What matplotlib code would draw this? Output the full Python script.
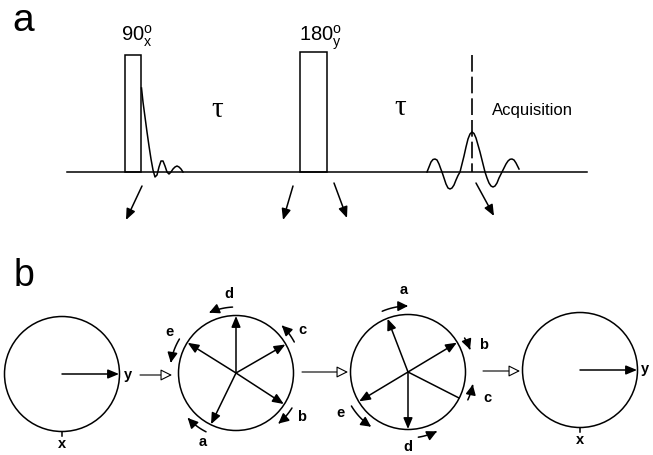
import numpy as np
import matplotlib
matplotlib.use("agg")
import matplotlib.pyplot as plt
from matplotlib.patches import Circle, FancyArrowPatch, Rectangle
from matplotlib.path import Path

plt.rcParams['font.family'] = ['Liberation Sans', 'DejaVu Sans']
plt.rcParams['mathtext.fontset'] = 'custom'
plt.rcParams['mathtext.rm'] = 'Liberation Sans'
plt.rcParams['mathtext.it'] = 'Liberation Sans'

# ---- panel a: pulse sequence (pixel coordinates)
baseline_y = 172
baseline_x = [67, 587]
pulse_left = [125, 300]
pulse_right = [141, 327]
pulse_top = [55, 52]
pulse_labels = [r'$\mathrm{90^o_x}$', r'$\mathrm{180^o_y}$']
pulse_label_x = [121, 299]

fid_x = [141.5, 143, 145, 147, 149, 151, 153, 155, 157, 159, 161, 163, 165,
         167, 169, 171, 173, 175, 177, 179, 181, 183]
fid_h = [84, 70, 55, 40, 26, 13, 2, -5, -3, 5, 11, 11, 6, 0, -2, 0, 3, 5, 6,
         5, 3, 0]

echo_x = [427, 429, 431, 433, 435, 437, 439, 441, 442, 444, 446, 448, 450,
          452, 454, 456, 458, 460, 462, 464, 466, 468, 470, 472, 474, 476,
          478, 480, 482, 484, 485, 487, 489, 491, 493, 495, 497, 499, 501,
          502, 504, 506, 508, 510, 512, 514, 516, 518, 519]
echo_h = [0, 5, 10, 12.5, 13, 12, 8, 2.5, 0, -6, -12, -16, -17, -16, -13, -8,
          -3.5, 0, 8, 16, 25, 33, 38, 40, 38.5, 34, 27, 20, 12, 4, 0, -6, -11,
          -14, -15, -14, -11, -6, -2, 0, 4, 8, 11, 12.7, 13, 12, 9, 5, 3]
echo_center = 472

tau_x = [217, 400]
tau_y = [110, 108]

spin_tail = [(142, 186), (293, 186), (334, 183), (476, 183)]
spin_head = [(126, 220), (283, 220), (347, 218), (494, 216)]

# ---- panel b: vector diagrams
circ_cx = [62, 236, 408, 580]
circ_cy = [374, 373, 372, 370]
circ_r = 57.5

vec_labels = ['a', 'b', 'c', 'd', 'e']
vec_ang_2 = [-116, -33, 30, 90, 148]
vec_ang_3 = [111, 31, -27, -90, -149]
vec_head_3 = [True, True, False, True, True]

arc_start_2 = [-117, -32, 28, 93, 149]
arc_end_2 = [-137, -50, 46, 114, 171]
lab_ang_2 = [-116, -34, 33, 95, 148]
lab_r_2 = [77, 79, 79, 79, 78]

arc_start_3 = [113, 31, -25, -81, -149]
arc_end_3 = [90, 20, -11, -64, -124]
lab_ang_3 = [93, 20, -18, -90, -149]
lab_r_3 = [82, 80, 83, 75, 79]

conn_x0 = [140, 302, 483]
conn_x1 = [172, 348, 520]
conn_y = [375, 372, 371]

fig = plt.figure(figsize=(6.53, 4.55), dpi=100)
ax = fig.add_axes([0, 0, 1, 1])
ax.set_xlim(0, 653)
ax.set_ylim(455, 0)
ax.axis('off')

lw = 1.1
k = 'black'

# panel labels
ax.text(23, 21, 'a', fontsize=28, ha='center', va='center')
ax.text(24, 276, 'b', fontsize=27, ha='center', va='center')

# baseline and pulses
ax.plot(baseline_x, [baseline_y, baseline_y], color=k, lw=lw)
for x0, x1, top, lab, lx in zip(pulse_left, pulse_right, pulse_top, pulse_labels, pulse_label_x):
    ax.add_patch(Rectangle((x0, top), x1 - x0, baseline_y - top, fill=False, ec=k, lw=lw))
    ax.text(lx, 41, lab, fontsize=14.5, ha='left', va='baseline')

ax.plot(fid_x, [baseline_y - h for h in fid_h], color=k, lw=lw)
ax.plot(echo_x, [baseline_y - h for h in echo_h], color=k, lw=lw)
ax.plot([echo_center, echo_center], [55, baseline_y], color=k, lw=1.2, dashes=(10, 3))

for tx, ty in zip(tau_x, tau_y):
    ax.text(tx, ty, 'τ', fontsize=21, ha='center', va='center', family='Liberation Serif')
ax.text(492, 115, 'Acquisition', fontsize=12, ha='left', va='baseline')

for t, h in zip(spin_tail, spin_head):
    ax.annotate('', xy=h, xytext=t,
                arrowprops=dict(arrowstyle='-|>,head_length=0.6,head_width=0.25',
                                mutation_scale=11, lw=lw, color=k, shrinkA=0, shrinkB=0))


def pol(cx, cy, r, deg):
    a = np.deg2rad(deg)
    return cx + r * np.cos(a), cy - r * np.sin(a)


def vec(cx, cy, deg, head=True):
    end = pol(cx, cy, circ_r - 0.5, deg)
    if head:
        ax.annotate('', xy=end, xytext=(cx, cy),
                    arrowprops=dict(arrowstyle='-|>,head_length=0.6,head_width=0.25',
                                    mutation_scale=11, lw=lw, color=k, shrinkA=0, shrinkB=0))
    else:
        ax.plot([cx, end[0]], [cy, end[1]], color=k, lw=lw)


def arc_arrow(cx, cy, a0, a1, r=66):
    th = np.linspace(a0, a1, 20)
    xs, ys = pol(cx, cy, r, th)
    p = FancyArrowPatch(path=Path(np.column_stack([xs, ys])),
                        arrowstyle='-|>,head_length=0.6,head_width=0.3',
                        mutation_scale=10, lw=lw, color=k)
    ax.add_patch(p)


for cx, cy in zip(circ_cx, circ_cy):
    ax.add_patch(Circle((cx, cy), circ_r, fill=False, ec=k, lw=lw))

# circle 1 and 4: magnetisation along y
for i, yx in ((0, 119), (3, 637)):
    cx, cy = circ_cx[i], circ_cy[i]
    ax.annotate('', xy=(yx, cy), xytext=(cx, cy),
                arrowprops=dict(arrowstyle='-|>,head_length=0.6,head_width=0.25',
                                mutation_scale=11, lw=lw, color=k, shrinkA=0, shrinkB=0))
    ax.plot([cx, cx], [cy + circ_r, cy + circ_r + 4], color=k, lw=lw)
    ax.text(cx, cy + 70, 'x', fontsize=10.5, fontweight='bold', ha='center', va='center')
ax.text(124, 375, 'y', fontsize=10.5, fontweight='bold', ha='left', va='center')
ax.text(641, 369, 'y', fontsize=10.5, fontweight='bold', ha='left', va='center')

# circle 2: dephasing
cx, cy = circ_cx[1], circ_cy[1]
for lab, ang, a0, a1, la, lr in zip(vec_labels, vec_ang_2, arc_start_2, arc_end_2, lab_ang_2, lab_r_2):
    vec(cx, cy, ang)
    arc_arrow(cx, cy, a0, a1)
    ax.text(*pol(cx, cy, lr, la), lab, fontsize=10.5, fontweight='bold', ha='center', va='center')

# circle 3: after the 180 pulse
cx, cy = circ_cx[2], circ_cy[2]
for lab, ang, hd, a0, a1, la, lr in zip(vec_labels, vec_ang_3, vec_head_3, arc_start_3, arc_end_3, lab_ang_3, lab_r_3):
    vec(cx, cy, ang, hd)
    arc_arrow(cx, cy, a0, a1)
    ax.text(*pol(cx, cy, lr, la), lab, fontsize=10.5, fontweight='bold', ha='center', va='center')

# connectors with open heads
for x0, x1, y in zip(conn_x0, conn_x1, conn_y):
    ax.add_patch(FancyArrowPatch((x0, y), (x1, y),
                                 arrowstyle='-|>,head_length=0.7,head_width=0.35',
                                 mutation_scale=10, lw=0.8, ec=k, fc='white',
                                 shrinkA=0, shrinkB=0))

fig.savefig('out.png', dpi=100)
